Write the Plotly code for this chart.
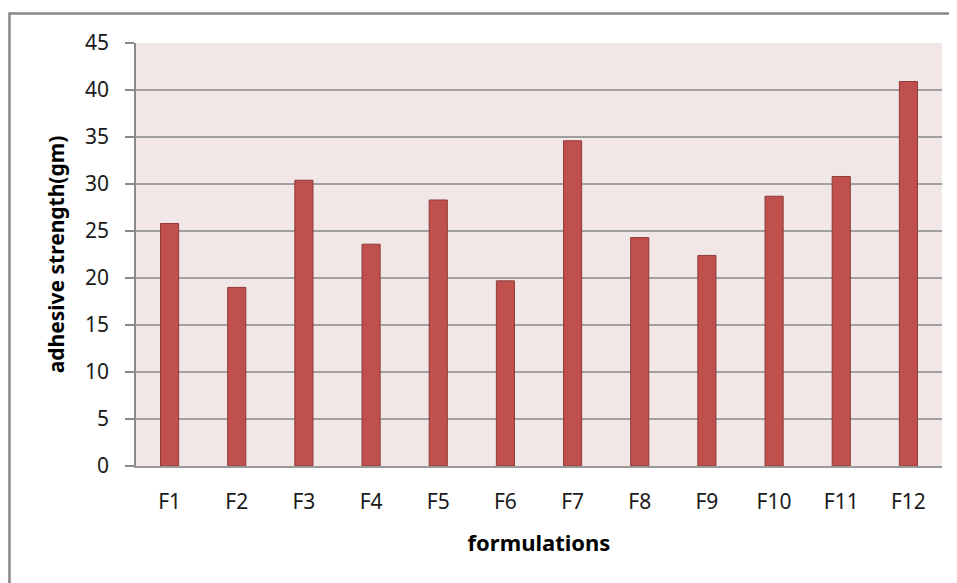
import plotly.graph_objects as go

categories = ["F1", "F2", "F3", "F4", "F5", "F6", "F7", "F8", "F9", "F10", "F11", "F12"]
adhesive_strength = [25.8, 19.0, 30.4, 23.6, 28.3, 19.7, 34.6, 24.3, 22.4, 28.7, 30.8, 40.9]
y_ticks = [0, 5, 10, 15, 20, 25, 30, 35, 40, 45]

FONT = "Noto Sans"
TICK_SIZE = 21
TITLE_SIZE = 22

fig = go.Figure(
    go.Bar(
        x=categories,
        y=adhesive_strength,
        width=0.27,
        marker=dict(color="#C0504D", line=dict(color="#8E3B39", width=1)),
    )
)

fig.update_layout(
    width=957,
    height=583,
    margin=dict(l=128, r=23, t=35, b=124.5),
    paper_bgcolor="white",
    plot_bgcolor="#F2E7E7",
    showlegend=False,
    font=dict(family=FONT, size=TICK_SIZE, color="#1a1a1a"),
    shapes=[
        dict(
            type="rect", xref="paper", yref="paper",
            x0=-0.157, x1=1.06, y0=-0.5, y1=1.070,
            line=dict(color="#878787", width=2.5), fillcolor="rgba(0,0,0,0)",
            layer="below",
        )
    ],
)

fig.update_xaxes(
    type="category",
    showline=True, linecolor="#9a9a9a", linewidth=1.5,
    ticks="", showgrid=False,
    ticklabelstandoff=16,
    tickfont=dict(family=FONT, size=TICK_SIZE, color="#1a1a1a"),
    title=dict(text="<b>formulations</b>", font=dict(family=FONT, size=TITLE_SIZE, color="#000"), standoff=22),
)

fig.update_yaxes(
    range=[0, 45],
    tickvals=y_ticks,
    showline=True, linecolor="#8a8a8a", linewidth=1.5,
    ticks="outside", ticklen=9, tickcolor="#8a8a8a", tickwidth=1.5,
    showgrid=True, gridcolor="#a0a0a0", gridwidth=1.5,
    zeroline=False,
    ticklabelstandoff=12,
    tickfont=dict(family=FONT, size=TICK_SIZE, color="#1a1a1a"),
    title=dict(text="<b>adhesive strength(gm)</b>", font=dict(family=FONT, size=21, color="#000"), standoff=15),
)

fig.write_html("out.html")
